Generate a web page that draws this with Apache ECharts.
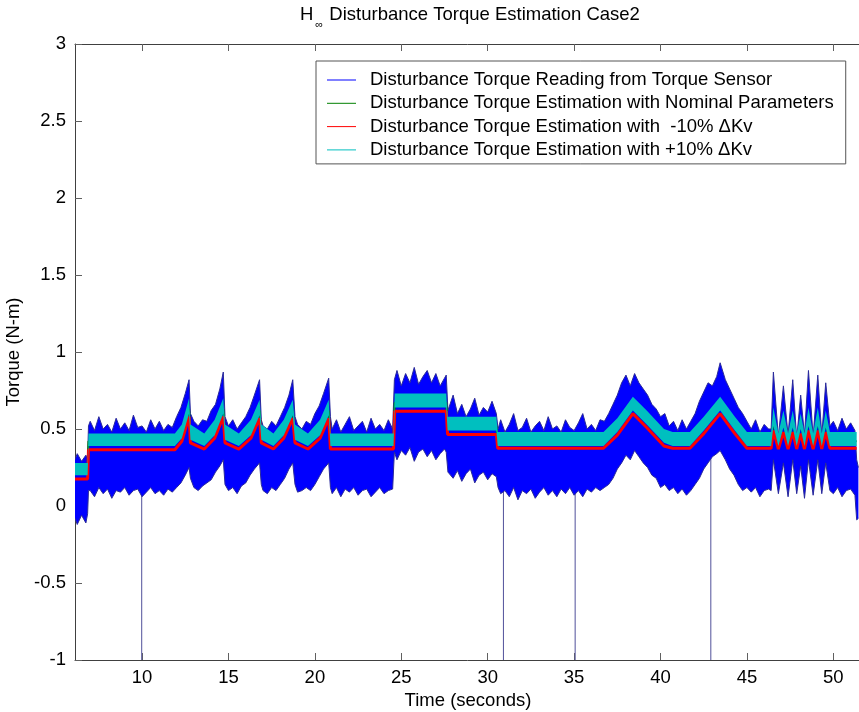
<!DOCTYPE html>
<html><head><meta charset="utf-8">
<script src="https://cdn.jsdelivr.net/npm/echarts@6/dist/echarts.min.js"></script>
<style>html,body{margin:0;padding:0;background:#fff}#c{width:859px;height:712px}</style>
</head><body><div id="c"></div>
<script>
// ---------- text ----------
const titleText = 'Disturbance Torque Estimation Case2';
const xName = 'Time (seconds)';
const yName = 'Torque (N-m)';
const seriesNames = [
  'Disturbance Torque Reading from Torque Sensor',
  'Disturbance Torque Estimation with Nominal Parameters',
  'Disturbance Torque Estimation with  -10% \u0394Kv',
  'Disturbance Torque Estimation with +10% \u0394Kv'
];
const xTickValues = [10, 15, 20, 25, 30, 35, 40, 45, 50];

// ---------- torque sensor reading: upper / lower envelope of the noisy trace ----------
const sensorT = [6.12,6.25,6.5,6.75,6.85,6.9,
 7.0,7.25,7.5,7.75,8.0,8.25,8.5,8.75,9.0,9.25,9.5,9.75,10.0,10.25,10.5,10.75,11.0,11.25,11.5,11.75,
 12.0,12.25,12.5,12.72,
 12.8,13.0,13.25,13.5,13.75,14.0,14.25,14.5,14.7,
 14.8,15.0,15.25,15.5,15.75,16.0,16.25,16.5,16.8,
 16.9,17.0,17.25,17.5,17.75,18.0,18.25,18.5,18.72,
 18.85,19.0,19.25,19.5,19.75,20.0,20.25,20.5,20.8,
 20.9,21.0,21.25,21.5,21.75,22.0,22.25,22.5,22.75,23.0,23.25,23.5,23.75,24.0,24.25,24.5,
 24.6,24.75,25.0,25.25,25.5,25.75,26.0,26.25,26.5,26.75,27.0,27.25,27.5,27.6,
 27.7,28.0,28.25,28.5,28.75,29.0,29.25,29.5,29.75,30.0,30.25,30.5,
 30.6,30.75,31.0,31.25,31.5,31.75,32.0,32.25,32.5,32.75,33.0,33.25,33.5,33.75,34.0,34.25,34.5,34.75,35.0,35.25,35.5,35.75,36.0,36.25,36.5,
 36.75,37.0,37.25,37.5,37.75,38.0,38.25,38.5,38.75,39.0,39.25,39.5,39.75,40.0,40.25,40.5,40.75,
 41.0,41.25,41.5,
 41.75,42.0,42.25,42.5,42.75,43.0,43.25,43.45,43.75,44.0,44.25,44.5,44.75,45.0,
 45.25,45.5,45.75,46.0,46.25,
 46.4,46.53,46.82,47.11,47.38,47.65,47.88,48.11,48.33,48.56,48.83,49.1,49.33,49.56,49.8,
 50.0,50.25,50.5,50.75,51.0,51.25,51.35,51.45];
const sensorHi = [0.30,0.34,0.29,0.33,0.31,0.52,
 0.55,0.49,0.58,0.50,0.53,0.48,0.57,0.50,0.54,0.49,0.59,0.51,0.52,0.48,0.56,0.50,0.55,0.49,0.53,0.51,
 0.58,0.64,0.73,0.82,
 0.60,0.55,0.52,0.56,0.55,0.62,0.66,0.76,0.87,
 0.58,0.52,0.56,0.50,0.54,0.58,0.64,0.72,0.82,
 0.56,0.52,0.50,0.55,0.52,0.58,0.64,0.72,0.82,
 0.58,0.53,0.50,0.55,0.53,0.60,0.65,0.73,0.83,
 0.58,0.50,0.56,0.48,0.53,0.58,0.49,0.52,0.55,0.48,0.57,0.50,0.53,0.49,0.56,0.50,
 0.82,0.88,0.78,0.86,0.80,0.90,0.79,0.84,0.88,0.80,0.86,0.78,0.83,0.85,
 0.62,0.72,0.60,0.66,0.58,0.63,0.70,0.59,0.64,0.61,0.68,0.60,
 0.50,0.56,0.48,0.53,0.60,0.49,0.51,0.57,0.48,0.52,0.55,0.49,0.58,0.50,0.52,0.48,0.56,0.51,0.49,0.54,0.60,0.50,0.53,0.49,0.56,
 0.55,0.60,0.66,0.72,0.80,0.85,0.78,0.86,0.80,0.76,0.72,0.66,0.63,0.58,0.60,0.52,0.55,
 0.49,0.56,0.50,
 0.55,0.60,0.68,0.74,0.80,0.78,0.84,0.93,0.82,0.76,0.70,0.64,0.60,0.55,
 0.50,0.56,0.48,0.53,0.50,
 0.50,0.87,0.45,0.78,0.46,0.82,0.44,0.72,0.46,0.88,0.45,0.85,0.46,0.80,0.52,
 0.55,0.49,0.57,0.50,0.54,0.49,0.30,0.25];
const sensorLo = [-0.08,-0.12,-0.06,-0.11,-0.05,0.10,
 0.10,0.06,0.12,0.08,0.11,0.05,0.10,0.09,0.12,0.07,0.10,0.11,0.06,0.09,0.12,0.08,0.10,0.07,0.11,0.09,
 0.12,0.15,0.20,0.25,
 0.18,0.12,0.10,0.13,0.15,0.17,0.22,0.26,0.30,
 0.14,0.10,0.12,0.08,0.13,0.15,0.20,0.24,0.28,
 0.14,0.10,0.08,0.12,0.10,0.14,0.18,0.24,0.28,
 0.14,0.09,0.10,0.12,0.10,0.14,0.19,0.24,0.28,
 0.12,0.08,0.12,0.06,0.11,0.09,0.12,0.07,0.10,0.11,0.06,0.09,0.12,0.08,0.10,0.11,
 0.35,0.30,0.36,0.33,0.38,0.29,0.35,0.37,0.32,0.36,0.30,0.34,0.37,0.35,
 0.22,0.18,0.23,0.16,0.21,0.24,0.15,0.20,0.22,0.17,0.21,0.19,
 0.12,0.08,0.10,0.06,0.12,0.04,0.10,0.08,0.11,0.05,0.09,0.12,0.07,0.10,0.06,0.11,0.08,0.12,0.07,0.10,0.06,0.11,0.09,0.12,0.10,
 0.12,0.14,0.18,0.24,0.28,0.33,0.30,0.36,0.32,0.28,0.25,0.20,0.18,0.12,0.14,0.10,0.12,
 0.08,0.11,0.07,
 0.10,0.14,0.18,0.24,0.28,0.32,0.34,0.36,0.30,0.24,0.20,0.14,0.10,0.12,
 0.09,0.12,0.06,0.10,0.11,
 0.10,0.30,0.08,0.28,0.06,0.30,0.08,0.26,0.05,0.30,0.07,0.30,0.08,0.28,0.10,
 0.08,0.12,0.06,0.10,0.11,0.07,-0.09,-0.08];
// isolated sensor drop-outs reaching -1
const dropT = [9.98, 30.91, 35.06, 42.91];
const dropTop = [0.15, 0.15, 0.15, 0.35];
const dropBottom = [-1, -1, -1, -1];

// ---------- estimations ----------
const estT = [6.12,6.85,6.9,11.9,12.3,12.72,12.8,13.6,14.2,14.7,14.8,15.6,16.3,16.8,16.9,17.6,18.2,18.72,18.85,19.6,20.3,20.8,20.9,24.55,24.62,27.6,27.68,30.5,30.58,36.7,37.5,38.4,39.2,40.2,40.7,41.7,42.5,43.45,44.3,45.0,46.4,46.53,46.82,47.11,47.38,47.65,47.88,48.11,48.33,48.56,48.83,49.1,49.33,49.56,49.8,51.35];
const plusHi = [0.28,0.28,0.47,0.47,0.53,0.70,0.53,0.47,0.56,0.70,0.53,0.47,0.56,0.69,0.53,0.47,0.56,0.69,0.53,0.47,0.56,0.69,0.47,0.47,0.73,0.73,0.58,0.58,0.48,0.48,0.57,0.71,0.62,0.50,0.48,0.48,0.58,0.71,0.58,0.48,0.48,0.64,0.47,0.62,0.47,0.62,0.47,0.60,0.47,0.64,0.47,0.64,0.47,0.62,0.48,0.48];
const plusLo = [0.20,0.20,0.39,0.39,0.44,0.60,0.43,0.39,0.46,0.60,0.43,0.39,0.46,0.59,0.43,0.39,0.46,0.59,0.43,0.39,0.46,0.59,0.39,0.39,0.64,0.64,0.49,0.49,0.39,0.39,0.48,0.62,0.53,0.41,0.39,0.39,0.49,0.62,0.49,0.39,0.39,0.52,0.39,0.51,0.39,0.51,0.39,0.50,0.39,0.52,0.39,0.52,0.39,0.51,0.39,0.39];
const minusV = [0.175,0.175,0.365,0.365,0.42,0.58,0.41,0.37,0.44,0.58,0.41,0.37,0.44,0.57,0.41,0.37,0.44,0.57,0.41,0.37,0.44,0.57,0.37,0.37,0.615,0.615,0.465,0.465,0.375,0.375,0.46,0.60,0.51,0.39,0.375,0.375,0.47,0.60,0.47,0.375,0.375,0.49,0.37,0.48,0.37,0.48,0.37,0.47,0.37,0.49,0.37,0.49,0.37,0.48,0.375,0.375];
const nominalV = [0.23,0.23,0.42,0.42,0.47,0.63,0.46,0.42,0.49,0.63,0.46,0.42,0.49,0.62,0.46,0.42,0.49,0.62,0.46,0.42,0.49,0.62,0.42,0.42,0.67,0.67,0.52,0.52,0.42,0.42,0.51,0.65,0.56,0.44,0.42,0.42,0.52,0.65,0.52,0.42,0.42,0.55,0.42,0.54,0.42,0.54,0.42,0.53,0.42,0.55,0.42,0.55,0.42,0.54,0.42,0.42];

// ---------- build ----------
const FONT = "'Liberation Sans', Arial, Helvetica, sans-serif";
const FS = 18.5;
const colors = ['#0000ff', '#008000', '#ff0000', '#00bfbf'];
const pairs = (xs, ys) => xs.map((x, i) => [x, ys[i]]);
const dropData = [];
dropT.forEach((t, i) => { dropData.push([t, dropTop[i]], [t, dropBottom[i]], [t, '-']); });

// band between a lower and an upper series, drawn as one polygon through the axis scales
function bandSeries(name, ts, lo, hi, fill, edge, z) {
  return {
    type: 'custom', name: name, silent: true, clip: true, z: z,
    itemStyle: {color: fill},
    data: ts.map((t, i) => [t, lo[i], hi[i]]),
    encode: {x: 0, y: [1, 2]},
    renderItem: function (params, api) {
      if (params.dataIndexInside !== 0) return null;
      const n = params.dataInsideLength;
      const top = [], bot = [];
      for (let i = 0; i < n; i++) {
        const t = api.value(0, i);
        top.push(api.coord([t, api.value(2, i)]));
        bot.push(api.coord([t, api.value(1, i)]));
      }
      const children = [{type: 'polygon', shape: {points: top.concat(bot.slice().reverse())},
        style: {fill: fill, stroke: null}}];
      if (edge) {
        children.push({type: 'polyline', shape: {points: top}, style: {stroke: edge, lineWidth: 1, fill: null}});
        children.push({type: 'polyline', shape: {points: bot}, style: {stroke: edge, lineWidth: 1, fill: null}});
      }
      return {type: 'group', children: children};
    }
  };
}

const chart = echarts.init(document.getElementById('c'), null, {renderer: 'canvas'});
const axisCommon = {
  type: 'value', min: 6.12, max: 51.6,
  axisLine: {show: true, onZero: false, lineStyle: {color: '#404040', width: 1}},
  axisTick: {show: true, inside: true, length: 7, customValues: xTickValues, lineStyle: {color: '#606060'}},
  splitLine: {show: false}
};
chart.setOption({
  animation: false,
  backgroundColor: '#ffffff',
  title: {
    text: '{h|H}{s|\u221e}{h| ' + titleText + '}',
    left: 300, top: 5, padding: 0,
    textStyle: {
      rich: {
        h: {fontFamily: FONT, fontSize: FS, fontWeight: 'normal', color: '#000', lineHeight: 20, verticalAlign: 'top'},
        s: {fontFamily: FONT, fontSize: 11, fontWeight: 'normal', color: '#000', lineHeight: 11, padding: [14, 1, 0, 2], verticalAlign: 'top'}
      }
    }
  },
  grid: {left: 75, top: 44, right: -2, bottom: 52, containLabel: false, outerBoundsMode: 'none'},
  legend: {
    orient: 'vertical', left: 316, top: 61, z: 10,
    padding: [9, 12, 4, 11], itemGap: 3.3, itemWidth: 29, itemHeight: 1,
    icon: 'rect', borderColor: '#555', borderWidth: 1, backgroundColor: '#fff',
    selectedMode: false,
    textStyle: {fontFamily: FONT, fontSize: FS, color: '#000', lineHeight: 20, padding: [0, 0, 0, 9]},
    data: seriesNames.map((n, i) => ({name: n, itemStyle: {color: colors[i]}}))
  },
  xAxis: [
    Object.assign({}, axisCommon, {
      position: 'bottom',
      name: xName, nameLocation: 'middle', nameGap: 28,
      nameTextStyle: {fontFamily: FONT, fontSize: FS, color: '#000'},
      axisLabel: {customValues: xTickValues, margin: 8, fontFamily: FONT, fontSize: FS, color: '#000'}
    }),
    Object.assign({}, axisCommon, {position: 'top', axisLabel: {show: false}})
  ],
  yAxis: {
    type: 'value', min: -1, max: 3, interval: 0.5,
    name: yName, nameLocation: 'middle', nameGap: 37,
    nameTextStyle: {fontFamily: FONT, fontSize: FS, color: '#000'},
    axisLine: {show: true, onZero: false, lineStyle: {color: '#404040', width: 1}},
    axisTick: {show: true, inside: true, length: 7, lineStyle: {color: '#606060'}},
    axisLabel: {margin: 9, fontFamily: FONT, fontSize: FS, color: '#000'},
    splitLine: {show: false}
  },
  series: [
    {type: 'line', name: seriesNames[0], z: 1, data: dropData, symbol: 'none', silent: true,
     lineStyle: {color: '#50509a', width: 1}, itemStyle: {color: colors[0]}},
    bandSeries(seriesNames[0], sensorT, sensorLo, sensorHi, colors[0], '#2a2a9a', 2),
    {type: 'line', name: seriesNames[1], z: 3, data: pairs(estT, nominalV), symbol: 'none', silent: true,
     lineStyle: {color: colors[1], width: 2}, itemStyle: {color: colors[1]}},
    {type: 'line', name: seriesNames[2], z: 4, data: pairs(estT, minusV), symbol: 'none', silent: true,
     lineStyle: {color: colors[2], width: 3}, itemStyle: {color: colors[2]}},
    bandSeries(seriesNames[3], estT, plusLo, plusHi, colors[3], null, 5)
  ]
});
</script>
</body></html>
